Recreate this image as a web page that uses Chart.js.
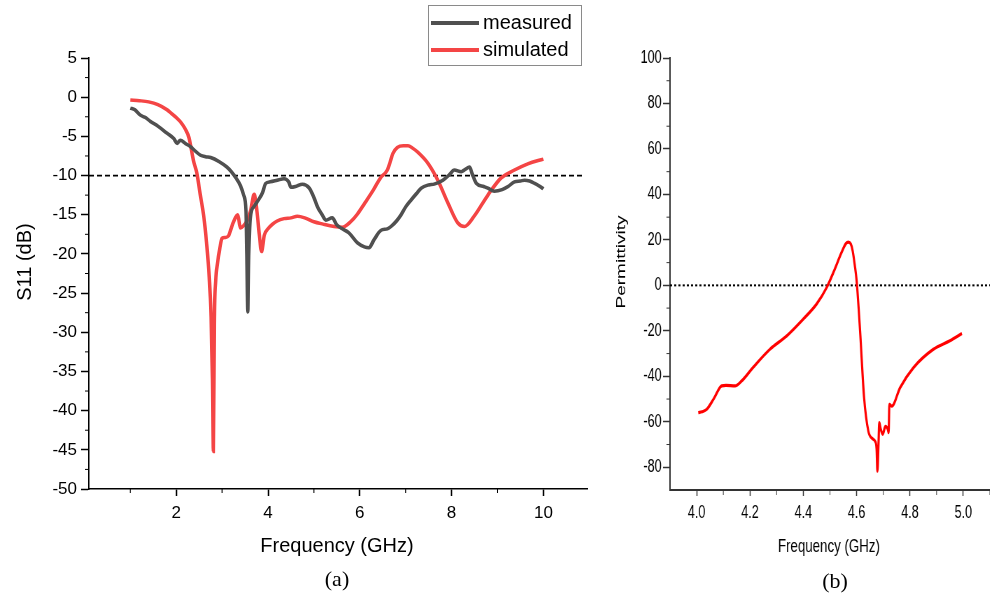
<!DOCTYPE html>
<html>
<head>
<meta charset="utf-8">
<script src="https://cdn.jsdelivr.net/npm/chart.js@4.4.0/dist/chart.umd.min.js"></script>
<style>
  body { margin: 0; background: #fff; width: 990px; height: 597px; overflow: hidden; position: relative; }
  #wrapA { position: absolute; left: 0; top: 0; width: 600px; height: 597px; }
  /* panel (b) is horizontally squeezed in the original figure */
  #wrapB { position: absolute; left: 600px; top: 0; width: 557px; height: 597px; transform: scaleX(0.7); transform-origin: 0 0; }
  .cap { position: absolute; font-family: "Liberation Serif", "Times New Roman", serif; font-size: 22px; color: #000; transform: translate(-50%, -50%); }
</style>
</head>
<body>
<div id="wrapA"><canvas id="chartS11" width="600" height="597"></canvas></div>
<div id="wrapB"><canvas id="chartPerm" width="557" height="597"></canvas></div>
<div class="cap" style="left:337px;top:579px">(a)</div>
<div class="cap" style="left:835px;top:581px">(b)</div>

<script>
// ---- (a) S11 ----
const measFreq = [1.0,1.1,1.22,1.33,1.44,1.6,1.8,1.95,2.02,2.09,2.2,2.31,2.42,2.53,2.64,2.75,2.93,3.1,3.2,3.3,3.4,3.47,3.52,3.54,3.56,3.58,3.62,3.69,3.77,3.88,3.95,4.05,4.2,4.35,4.45,4.5,4.6,4.75,4.9,5.0,5.08,5.18,5.26,5.4,5.5,5.59,5.76,5.95,6.1,6.2,6.31,6.46,6.6,6.68,6.8,6.9,7.0,7.12,7.25,7.34,7.5,7.62,7.81,7.95,8.06,8.21,8.3,8.39,8.45,8.54,8.7,8.79,8.93,9.1,9.23,9.37,9.5,9.59,9.7,9.81,9.9,10.0];
const measS11 = [-1.4,-1.6,-2.3,-2.6,-3.1,-3.7,-4.6,-5.3,-5.9,-5.5,-5.9,-6.3,-6.9,-7.4,-7.6,-7.7,-8.2,-8.9,-9.5,-10.3,-11.3,-12.5,-14.5,-20,-27.4,-20,-15.2,-14.0,-13.3,-12.2,-11.0,-10.8,-10.6,-10.4,-10.8,-11.5,-11.4,-11.1,-11.6,-12.8,-14.0,-15.0,-15.7,-15.4,-16.3,-16.7,-17.3,-18.6,-19.1,-19.2,-18.2,-17.0,-16.8,-16.5,-15.8,-15.0,-14.0,-13.1,-12.2,-11.6,-11.2,-11.1,-10.6,-9.9,-9.3,-9.5,-9.2,-8.9,-9.8,-11.0,-11.4,-11.6,-12.0,-11.8,-11.4,-10.8,-10.7,-10.6,-10.7,-11.0,-11.3,-11.7];

const simFreq = [1.0,1.2,1.4,1.6,1.8,1.9,2.0,2.1,2.2,2.28,2.38,2.45,2.52,2.6,2.66,2.72,2.76,2.79,2.81,2.83,2.86,2.9,2.95,3.0,3.07,3.14,3.2,3.25,3.34,3.4,3.47,3.55,3.62,3.7,3.76,3.81,3.86,3.92,4.0,4.1,4.2,4.35,4.5,4.64,4.8,5.0,5.2,5.44,5.62,5.8,5.95,6.1,6.3,6.45,6.6,6.66,6.72,6.82,6.95,7.05,7.15,7.26,7.48,7.7,7.92,8.13,8.28,8.49,8.79,9.08,9.37,9.66,10.0];
const simS11 = [-0.36,-0.45,-0.6,-0.95,-1.6,-2.1,-2.6,-3.2,-4.1,-5.2,-8.2,-9.7,-12.3,-15.2,-18.5,-23,-28,-36,-45.2,-29,-23.5,-21.2,-19.3,-18.0,-17.9,-17.7,-16.7,-15.9,-15.0,-16.7,-16.4,-15.7,-14.5,-12.4,-14.6,-17.5,-19.7,-17.6,-16.8,-16.2,-15.8,-15.5,-15.4,-15.2,-15.4,-15.9,-16.2,-16.5,-16.6,-15.9,-14.9,-13.6,-11.8,-10.3,-9.3,-8.3,-7.2,-6.4,-6.2,-6.2,-6.5,-7.0,-8.4,-10.6,-13.5,-16.0,-16.5,-15.2,-12.5,-10.3,-9.3,-8.5,-7.9];

const refLevelA = -10;
const xTicksA = [2, 4, 6, 8, 10];
const xMinorA = [1, 3, 5, 7, 9];
const yTicksA = [-50,-45,-40,-35,-30,-25,-20,-15,-10,-5,0,5];
const yMinorA = [-47.5,-42.5,-37.5,-32.5,-27.5,-22.5,-17.5,-12.5,-7.5,-2.5,2.5];

// ---- (b) permittivity ----
const permFreq = [4.006,4.02,4.038,4.063,4.094,4.11,4.144,4.169,4.213,4.275,4.338,4.4,4.45,4.488,4.513,4.544,4.56,4.569,4.578,4.585,4.593,4.6,4.613,4.628,4.644,4.66,4.669,4.675,4.678,4.682,4.685,4.69,4.698,4.708,4.717,4.72,4.723,4.732,4.763,4.813,4.888,4.95,4.995];
const permVal = [-56.0,-55.6,-54.5,-50.1,-44.2,-44.0,-44.2,-42.0,-35.9,-28.1,-22.2,-14.8,-8.2,-0.9,5.7,14.6,18.4,19.0,18.2,15.3,9,2.1,-20,-49.4,-64.1,-67.5,-68.5,-72,-81.7,-70,-60.4,-63,-65.5,-62,-63.3,-64.8,-52.3,-53.1,-45,-36.2,-28.1,-24.4,-21.2];

const refLevelB = 0;
const xTicksB = [4.0, 4.2, 4.4, 4.6, 4.8, 5.0];
const xMinorB = [4.1, 4.3, 4.5, 4.7, 4.9, 5.1];
const yTicksB = [-80,-60,-40,-20,0,20,40,60,80,100];
const yMinorB = [-70,-50,-30,-10,10,30,50,70,90];

Chart.defaults.font.family = '"Liberation Sans", Arial, sans-serif';
Chart.defaults.color = '#000';

const toXY = (xs, ys) => xs.map((x, i) => ({ x: x, y: ys[i] }));

// minor ticks, axis titles, legend
const decor = {
  id: 'decor',
  afterDraw(chart, args, opts) {
    const ctx = chart.ctx, a = chart.chartArea;
    ctx.save();
    ctx.strokeStyle = opts.axisColor || '#000';
    ctx.lineWidth = 1;
    const sx = chart.scales.x, sy = chart.scales.y;
    (opts.xMinor || []).forEach(v => {
      const p = sx.getPixelForValue(v);
      ctx.beginPath(); ctx.moveTo(p, a.bottom); ctx.lineTo(p, a.bottom + opts.minorLen); ctx.stroke();
    });
    (opts.yMinor || []).forEach(v => {
      const p = sy.getPixelForValue(v);
      ctx.beginPath(); ctx.moveTo(a.left, p); ctx.lineTo(a.left - opts.minorLen, p); ctx.stroke();
    });

    ctx.fillStyle = '#000';
    ctx.textAlign = 'center';
    ctx.textBaseline = 'middle';
    ctx.font = opts.titleFont;
    ctx.fillText(opts.xTitle, opts.xTitlePos[0], opts.xTitlePos[1]);
    ctx.save();
    ctx.translate(opts.yTitlePos[0], opts.yTitlePos[1]);
    ctx.rotate(-Math.PI / 2);
    ctx.font = opts.yTitleFont || opts.titleFont;
    ctx.fillText(opts.yTitle, 0, 0);
    ctx.restore();

    if (opts.legend) {
      const L = opts.legend;
      ctx.strokeStyle = '#8a8a8a';
      ctx.lineWidth = 1;
      ctx.strokeRect(L.x + 0.5, L.y + 0.5, L.w, L.h);
      ctx.font = '20px "Liberation Sans", Arial, sans-serif';
      ctx.textAlign = 'left';
      chart.data.datasets.filter(d => d.inLegend).forEach((d, i) => {
        const yy = L.y + 18 + i * 27;
        ctx.strokeStyle = d.borderColor;
        ctx.lineWidth = 4;
        ctx.beginPath(); ctx.moveTo(L.x + 3, yy); ctx.lineTo(L.x + 51, yy); ctx.stroke();
        ctx.fillText(d.label, L.x + 55, yy);
      });
    }
    ctx.restore();
  }
};

new Chart(document.getElementById('chartS11'), {
  type: 'line',
  data: {
    datasets: [
      { label: 'measured', inLegend: true, data: toXY(measFreq, measS11), borderColor: '#505050', borderWidth: 3.5, pointRadius: 0, cubicInterpolationMode: 'monotone' },
      { label: 'simulated', inLegend: true, data: toXY(simFreq, simS11), borderColor: '#f44545', borderWidth: 3.5, pointRadius: 0, cubicInterpolationMode: 'monotone' },
      { label: 'ref', data: [{ x: 0.1, y: refLevelA }, { x: 10.9, y: refLevelA }], borderColor: '#000', borderWidth: 1.8, borderDash: [5, 3], pointRadius: 0 }
    ]
  },
  options: {
    responsive: false,
    animation: false,
    layout: { padding: { top: 58, right: 13, left: 0, bottom: 0 } },
    plugins: {
      legend: { display: false },
      tooltip: { enabled: false },
      decor: {
        xMinor: xMinorA, yMinor: yMinorA, minorLen: 4,
        titleFont: '20px "Liberation Sans", Arial, sans-serif',
        xTitle: 'Frequency (GHz)', xTitlePos: [337, 546],
        yTitle: 'S11 (dB)', yTitlePos: [25, 262],
        legend: { x: 428, y: 5, w: 153, h: 60 }
      }
    },
    scales: {
      x: {
        type: 'linear', min: 0.1, max: 10.95,
        afterFit: s => { s.height = 108; },
        afterBuildTicks: s => { s.ticks = xTicksA.map(v => ({ value: v })); },
        grid: { drawOnChartArea: false, tickLength: 7, color: '#000', tickWidth: 1.5 },
        border: { color: '#000', width: 1.5 },
        ticks: { font: { size: 17 }, padding: 7, maxRotation: 0 }
      },
      y: {
        min: -50, max: 5,
        afterFit: s => { s.width = 89; },
        afterBuildTicks: s => { s.ticks = yTicksA.map(v => ({ value: v })); },
        grid: { drawOnChartArea: false, tickLength: 8, color: '#000', tickWidth: 1.5 },
        border: { color: '#000', width: 1.5 },
        ticks: { font: { size: 17 }, padding: 4 }
      }
    }
  },
  plugins: [decor]
});

new Chart(document.getElementById('chartPerm'), {
  type: 'line',
  data: {
    datasets: [
      { label: 'permittivity', data: toXY(permFreq, permVal), borderColor: '#ff0000', borderWidth: 3.2, pointRadius: 0, cubicInterpolationMode: 'monotone' },
      { label: 'ref', data: [{ x: 3.9, y: refLevelB }, { x: 5.1, y: refLevelB }], borderColor: '#000', borderWidth: 2, borderDash: [3, 3], pointRadius: 0 }
    ]
  },
  options: {
    responsive: false,
    animation: false,
    layout: { padding: { top: 58, right: 0, left: 0, bottom: 0 } },
    plugins: {
      legend: { display: false },
      tooltip: { enabled: false },
      decor: {
        axisColor: '#333', xMinor: xMinorB, yMinor: yMinorB, minorLen: 5,
        titleFont: '19px "Liberation Sans", Arial, sans-serif',
        yTitleFont: '19px "Liberation Sans", Arial, sans-serif',
        xTitle: 'Frequency (GHz)', xTitlePos: [327, 547],
        yTitle: 'Permittivity', yTitlePos: [31, 262]
      }
    },
    scales: {
      x: {
        type: 'linear', min: 3.9, max: 5.1,
        afterFit: s => { s.height = 107; },
        afterBuildTicks: s => { s.ticks = xTicksB.map(v => ({ value: v })); },
        grid: { drawOnChartArea: false, tickLength: 6, color: '#333', tickWidth: 1.5 },
        border: { color: '#333', width: 2 },
        ticks: { font: { size: 18 }, padding: 6, maxRotation: 0, callback: v => v.toFixed(1) }
      },
      y: {
        min: -90, max: 100,
        afterFit: s => { s.width = 100; },
        afterBuildTicks: s => { s.ticks = yTicksB.map(v => ({ value: v })); },
        grid: { drawOnChartArea: false, tickLength: 10, color: '#333', tickWidth: 1.5 },
        border: { color: '#333', width: 2 },
        ticks: { font: { size: 18 }, padding: 2 }
      }
    }
  },
  plugins: [decor]
});
</script>
</body>
</html>
